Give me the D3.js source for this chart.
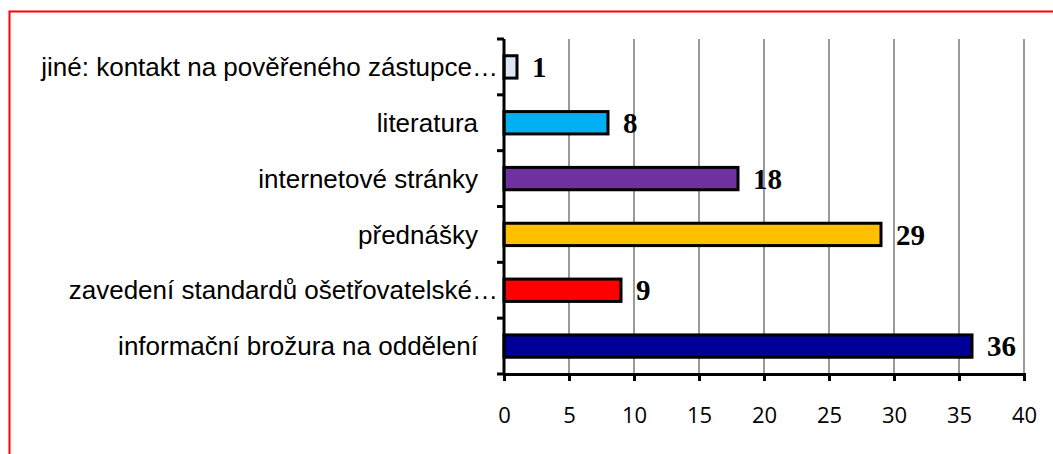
<!DOCTYPE html>
<html><head><meta charset="utf-8">
<script src="https://cdn.jsdelivr.net/npm/d3@7"></script>
<style>html,body{margin:0;padding:0;background:#fff;}svg{display:block;}</style>
</head><body>
<svg id="c" width="1053" height="454"></svg>
<script>
const categories = [
  "jiné: kontakt na pověřeného zástupce…",
  "literatura",
  "internetové stránky",
  "přednášky",
  "zavedení standardů ošetřovatelské…",
  "informační brožura na oddělení"
];
const values = [1, 8, 18, 29, 9, 36];
const colors = ["#dce6f2", "#00b0f0", "#7030a0", "#ffc000", "#ff0000", "#000099"];
const xTicks = [0, 5, 10, 15, 20, 25, 30, 35, 40];

const svg = d3.select("#c");
svg.append("rect").attr("x", 9.5).attr("y", 11.5).attr("width", 1100).attr("height", 500)
  .attr("fill", "none").attr("stroke", "#ff0000").attr("stroke-width", 2);

const x = d3.scaleLinear().domain([0, 40]).range([504, 1024]);
const y = d3.scaleBand().domain(categories).range([39, 374]).paddingInner(0.6).paddingOuter(0.3);
const step = y.step();

// gridlines
svg.append("g").selectAll("line").data(xTicks.filter(d => d > 0)).join("line")
  .attr("x1", d => x(d)).attr("x2", d => x(d))
  .attr("y1", 39).attr("y2", 374)
  .attr("stroke", "#9a9a9a").attr("stroke-width", 2);

// bars
svg.append("g").selectAll("rect").data(values).join("rect")
  .attr("x", x(0))
  .attr("y", (d, i) => y(categories[i]))
  .attr("width", d => x(d) - x(0))
  .attr("height", y.bandwidth())
  .attr("fill", (d, i) => colors[i])
  .attr("stroke", "#000").attr("stroke-width", 3);

// x axis
const xAxis = svg.append("g").attr("transform", "translate(0,374)")
  .call(d3.axisBottom(x).tickValues(xTicks).tickSize(7).tickPadding(26));
xAxis.select(".domain").attr("stroke", "#000").attr("stroke-width", 3);
xAxis.selectAll(".tick line").attr("stroke", "#000").attr("stroke-width", 3);
xAxis.selectAll(".tick text").attr("font-family", "'Open Sans', sans-serif").attr("font-size", 22).attr("fill", "#000");

// y axis line and ticks at band boundaries
const bounds = categories.map(c => y(c) - step * 0.3).concat([y(categories[categories.length - 1]) - step * 0.3 + step]);
svg.append("line").attr("x1", x(0)).attr("x2", x(0)).attr("y1", 39).attr("y2", 374)
  .attr("stroke", "#000").attr("stroke-width", 3);
svg.append("g").selectAll("line").data(bounds).join("line")
  .attr("x1", x(0) - 7).attr("x2", x(0)).attr("y1", d => d).attr("y2", d => d)
  .attr("stroke", "#000").attr("stroke-width", 3);

// category labels
svg.append("g").selectAll("text").data(categories).join("text")
  .attr("x", d => d.endsWith("…") ? x(0) - 6 : x(0) - 26)
  .attr("y", d => y(d) + y.bandwidth() / 2)
  .attr("dy", "0.35em")
  .attr("text-anchor", "end")
  .attr("font-family", "'Liberation Sans', Arial, sans-serif")
  .attr("font-size", 26)
  .attr("fill", "#000")
  .text(d => d);

// value labels
svg.append("g").selectAll("text").data(values).join("text")
  .attr("x", d => x(d) + 15)
  .attr("y", (d, i) => y(categories[i]) + y.bandwidth() / 2)
  .attr("dy", "0.35em")
  .attr("font-family", "'Liberation Serif', 'Times New Roman', serif")
  .attr("font-weight", "bold")
  .attr("font-size", 29)
  .attr("fill", "#000")
  .text(d => d);
</script>
</body></html>
